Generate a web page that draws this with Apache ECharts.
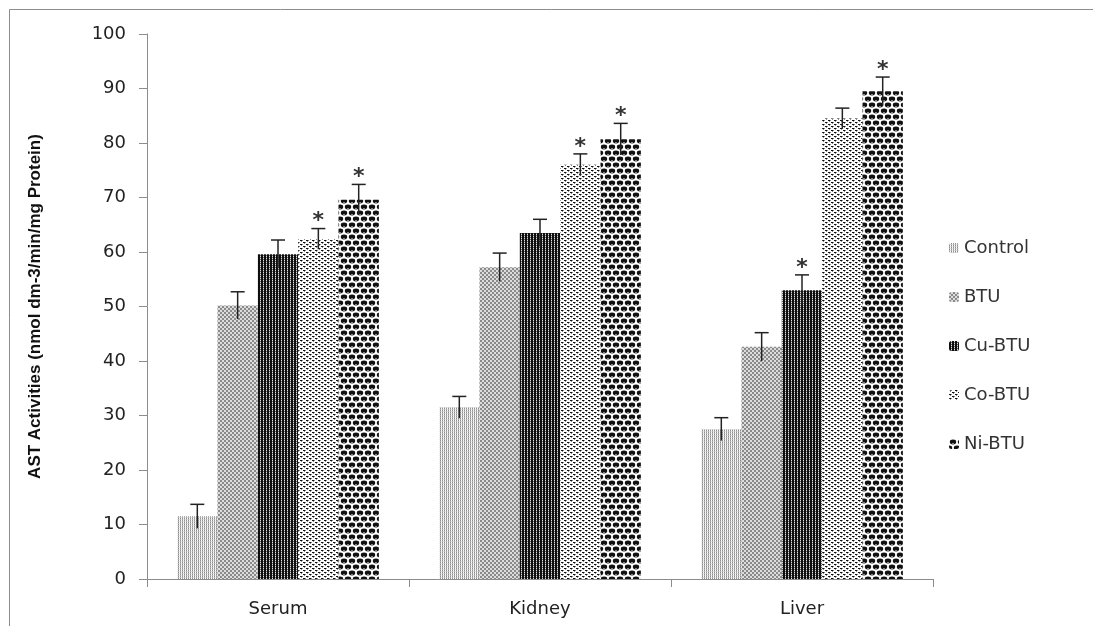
<!DOCTYPE html>
<html>
<head>
<meta charset="utf-8">
<script src="https://cdn.jsdelivr.net/npm/echarts@6/dist/echarts.min.js"></script>
<style>
  html, body { margin: 0; padding: 0; background: #fff; }
  #chart { width: 1093px; height: 626px; }
</style>
</head>
<body>
<div id="chart"></div>
<script>
const categories = ['Serum', 'Kidney', 'Liver'];
const groupNames = ['Control', 'BTU', 'Cu-BTU', 'Co-BTU', 'Ni-BTU'];

// mean values per group, in category order
const control = [11.5, 31.5, 27.5];
const btu = [50.2, 57.2, 42.6];
const cuBtu = [59.6, 63.5, 53.0];
const coBtu = [62.4, 76.0, 84.5];
const niBtu = [69.6, 80.7, 89.5];

// error (+/-)
const controlErr = [2.2, 2.0, 2.1];
const btuErr = [2.5, 2.6, 2.6];
const cuBtuErr = [2.6, 2.5, 2.8];
const coBtuErr = [1.9, 2.0, 1.9];
const niBtuErr = [2.8, 2.9, 2.6];

// significance stars
const controlSig = [false, false, false];
const btuSig = [false, false, false];
const cuBtuSig = [false, false, true];
const coBtuSig = [true, true, false];
const niBtuSig = [true, true, true];

const yTicks = [0, 10, 20, 30, 40, 50, 60, 70, 80, 90, 100];

const values = [control, btu, cuBtu, coBtu, niBtu];
const errors = [controlErr, btuErr, cuBtuErr, coBtuErr, niBtuErr];
const stars = [controlSig, btuSig, cuBtuSig, coBtuSig, niBtuSig];

// small pixel tiles for the fill patterns
function tile(w, h, draw) {
  const c = document.createElement('canvas');
  c.width = w; c.height = h;
  const ctx = c.getContext('2d');
  ctx.fillStyle = '#fff';
  ctx.fillRect(0, 0, w, h);
  draw(ctx);
  return { image: c, repeat: 'repeat' };
}
function px(ctx, color, pts) {
  ctx.fillStyle = color;
  pts.forEach(p => ctx.fillRect(p[0], p[1], p[2] || 1, p[3] || 1));
}

const patterns = [
  // Control: fine dotted vertical lines, light grey
  tile(2, 2, ctx => { px(ctx, '#8e8e8e', [[0, 0]]); px(ctx, '#b4b4b4', [[0, 1]]); px(ctx, '#e4e4e4', [[1, 1]]); }),
  // BTU: grey checker
  tile(4, 4, ctx => { px(ctx, '#8a8a8a', [[0, 0, 2, 2], [2, 2, 2, 2]]); px(ctx, '#dcdcdc', [[2, 0, 2, 2], [0, 2, 2, 2]]); }),
  // Cu-BTU: dark dense vertical stripes
  tile(3, 2, ctx => { px(ctx, '#0e0e0e', [[0, 0, 2, 2]]); px(ctx, '#e0e0e0', [[2, 0]]); px(ctx, '#666', [[2, 1]]); }),
  // Co-BTU: brick of small dashes on white
  tile(6, 4, ctx => { px(ctx, '#111', [[0, 0, 2, 1], [3, 2, 2, 1]]); px(ctx, '#888', [[2, 0], [5, 2], [1, 1], [4, 3]]); }),
  // Ni-BTU: dark ovals in offset rows
  tile(8, 12, ctx => {
    ctx.fillStyle = '#111';
    [[4, 3], [0, 9], [8, 9], [4, 15], [0, -3], [8, -3]].forEach(c => {
      ctx.beginPath(); ctx.ellipse(c[0], c[1], 3.2, 2.4, 0, 0, Math.PI * 2); ctx.fill();
    });
    px(ctx, '#888', [[3, 4, 2, 1], [7, 10, 2, 1], [0, 10, 1, 1]]);
  })
];

const catGap = 0.23;
const nGroups = groupNames.length;

const chart = echarts.init(document.getElementById('chart'));

const barSeries = groupNames.map((name, i) => ({
  name: name,
  type: 'bar',
  data: values[i],
  barGap: '0%',
  barCategoryGap: (catGap * 100) + '%',
  itemStyle: { color: patterns[i] },
  z: 2
}));

const errSeries = groupNames.map((name, i) => ({
  type: 'custom',
  name: name + '-err',
  data: values[i].map((v, k) => [k, v - errors[i][k], v + errors[i][k], stars[i][k] ? 1 : 0]),
  z: 5,
  silent: true,
  renderItem: function (params, api) {
    const k = api.value(0);
    const band = api.size([1, 0])[0];
    const barW = band * (1 - catGap) / nGroups;
    const x = api.coord([k, 0])[0] - band * (1 - catGap) / 2 + (i + 0.5) * barW;
    const yLo = api.coord([k, api.value(1)])[1];
    const yHi = api.coord([k, api.value(2)])[1];
    const cap = 7;
    const style = { stroke: '#222', lineWidth: 1.5 };
    const kids = [
      { type: 'line', shape: { x1: x, y1: yLo, x2: x, y2: yHi }, style: style },
      { type: 'line', shape: { x1: x - cap, y1: yHi, x2: x + cap, y2: yHi }, style: style }
    ];
    if (api.value(3)) {
      kids.push({
        type: 'text',
        style: { text: '*', x: x, y: yHi + 4, align: 'center', verticalAlign: 'bottom',
          font: 'bold 22px "DejaVu Sans"', fill: '#333' }
      });
    }
    return { type: 'group', children: kids };
  }
}));

chart.setOption({
  animation: false,
  backgroundColor: '#fff',
  graphic: [{
    type: 'polyline',
    shape: { points: [[9.5, 626], [9.5, 9.5], [1093, 9.5]] },
    style: { stroke: '#8c8c8c', lineWidth: 1, fill: null }
  }],
  grid: { left: 147, right: 160, top: 34, bottom: 47 },
  legend: {
    orient: 'vertical',
    left: 944,
    top: 234,
    itemWidth: 10,
    itemHeight: 10,
    itemGap: 31,
    data: groupNames,
    textStyle: { fontFamily: 'DejaVu Sans', fontSize: 18, color: '#333' }
  },
  xAxis: {
    type: 'category',
    data: categories,
    axisLine: { lineStyle: { color: '#8c8c8c' } },
    axisTick: { show: true, length: 8, lineStyle: { color: '#8c8c8c' } },
    axisLabel: { fontFamily: 'DejaVu Sans', fontSize: 18, color: '#222', margin: 21 }
  },
  yAxis: {
    type: 'value',
    min: yTicks[0],
    max: yTicks[yTicks.length - 1],
    interval: 10,
    name: 'AST Activities (nmol dm-3/min/mg Protein)',
    nameLocation: 'middle',
    nameGap: 103,
    nameTextStyle: { fontFamily: 'Liberation Sans', fontWeight: 'bold', fontSize: 17, color: '#111' },
    splitLine: { show: false },
    axisLine: { show: true, lineStyle: { color: '#8c8c8c' } },
    axisTick: { show: true, length: 8, lineStyle: { color: '#8c8c8c' } },
    axisLabel: { fontFamily: 'DejaVu Sans', fontSize: 18, color: '#222', margin: 21 }
  },
  series: barSeries.concat(errSeries)
});
</script>
</body>
</html>
